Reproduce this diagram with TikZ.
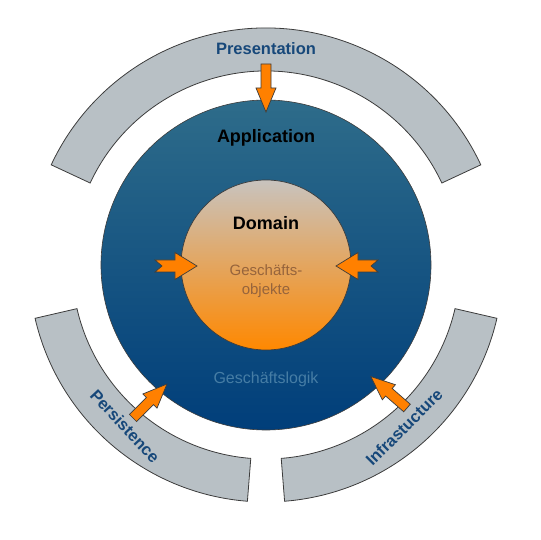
\documentclass[tikz,border=0pt]{standalone}
\usepackage{fontspec}
\setmainfont{Liberation Sans}
\definecolor{ringgray}{RGB}{184,192,197}
\definecolor{edgegray}{RGB}{60,60,60}
\definecolor{apptop}{RGB}{46,108,138}
\definecolor{appbottom}{RGB}{0,62,122}
\definecolor{domtop}{RGB}{200,195,190}
\definecolor{dombottom}{RGB}{255,136,0}
\definecolor{arroworange}{RGB}{255,128,0}
\definecolor{layerblue}{RGB}{23,72,122}
\definecolor{objbrown}{RGB}{150,100,60}
\definecolor{logicblue}{RGB}{70,125,165}
\tikzset{
	ring/.style={fill=ringgray,draw=edgegray,line width=0.8pt},
	blockarrow/.style={fill=arroworange,draw=edgegray,line width=0.7pt},
	layer/.style={font=\bfseries\fontsize{16.5}{20}\selectfont,text=layerblue},
	title/.style={font=\bfseries\fontsize{18}{22}\selectfont},
	pics/pusharrow/.style={code={\draw[blockarrow] (0,-5) -- (24,-5) -- (24,-10) -- (48,0) -- (24,10) -- (24,5) -- (0,5) -- cycle;}},
	pics/notcharrow/.style={code={\draw[blockarrow] (0,-6) -- (20,-6) -- (20,-13.5) -- (42,0) -- (20,13.5) -- (20,6) -- (0,6) -- (7,0) -- cycle;}}
}
\begin{document}
\begin{tikzpicture}[x=1pt,y=1pt]
	\useasboundingbox (-266,-275) rectangle (274,265);
	\foreach \from/\to in {25/155,193/265.5,274.5/347} {
		\draw[ring] (\from:237) arc (\from:\to:237) -- (\to:194) arc (\to:\from:194) -- cycle;
	}
	\draw[draw=edgegray,line width=0.6pt,top color=apptop,bottom color=appbottom] (0,0) circle (165);
	\draw[draw=edgegray,line width=0.7pt,top color=domtop,bottom color=dombottom] (0,0) circle (85);
	\node[layer] (pres) at (0,216) {Presentation};
	\node[title] (app) at (0,127) {Application};
	\node[title] (dom) at (0,42) {Domain};
	\node[align=center,font=\fontsize{15}{19}\selectfont,text=objbrown] (obj) at (0,-16) {Geschäfts-\\objekte};
	\node[font=\fontsize{16}{19}\selectfont,text=logicblue] (logic) at (0,-114) {Geschäftslogik};
	\node[layer,rotate=-47] (pers) at (-141,-161) {Persistence};
	\node[layer,rotate=45] (infra) at (138,-162) {Infrastucture};
	\pic[rotate=-90] at (0,201) {pusharrow};
	\pic[rotate=45] at (-133,-153) {pusharrow};
	\pic[rotate=139] at (141,-143) {pusharrow};
	\pic at (-111,-1) {notcharrow};
	\pic[rotate=180] at (112,-1) {notcharrow};
\end{tikzpicture}
\end{document}
